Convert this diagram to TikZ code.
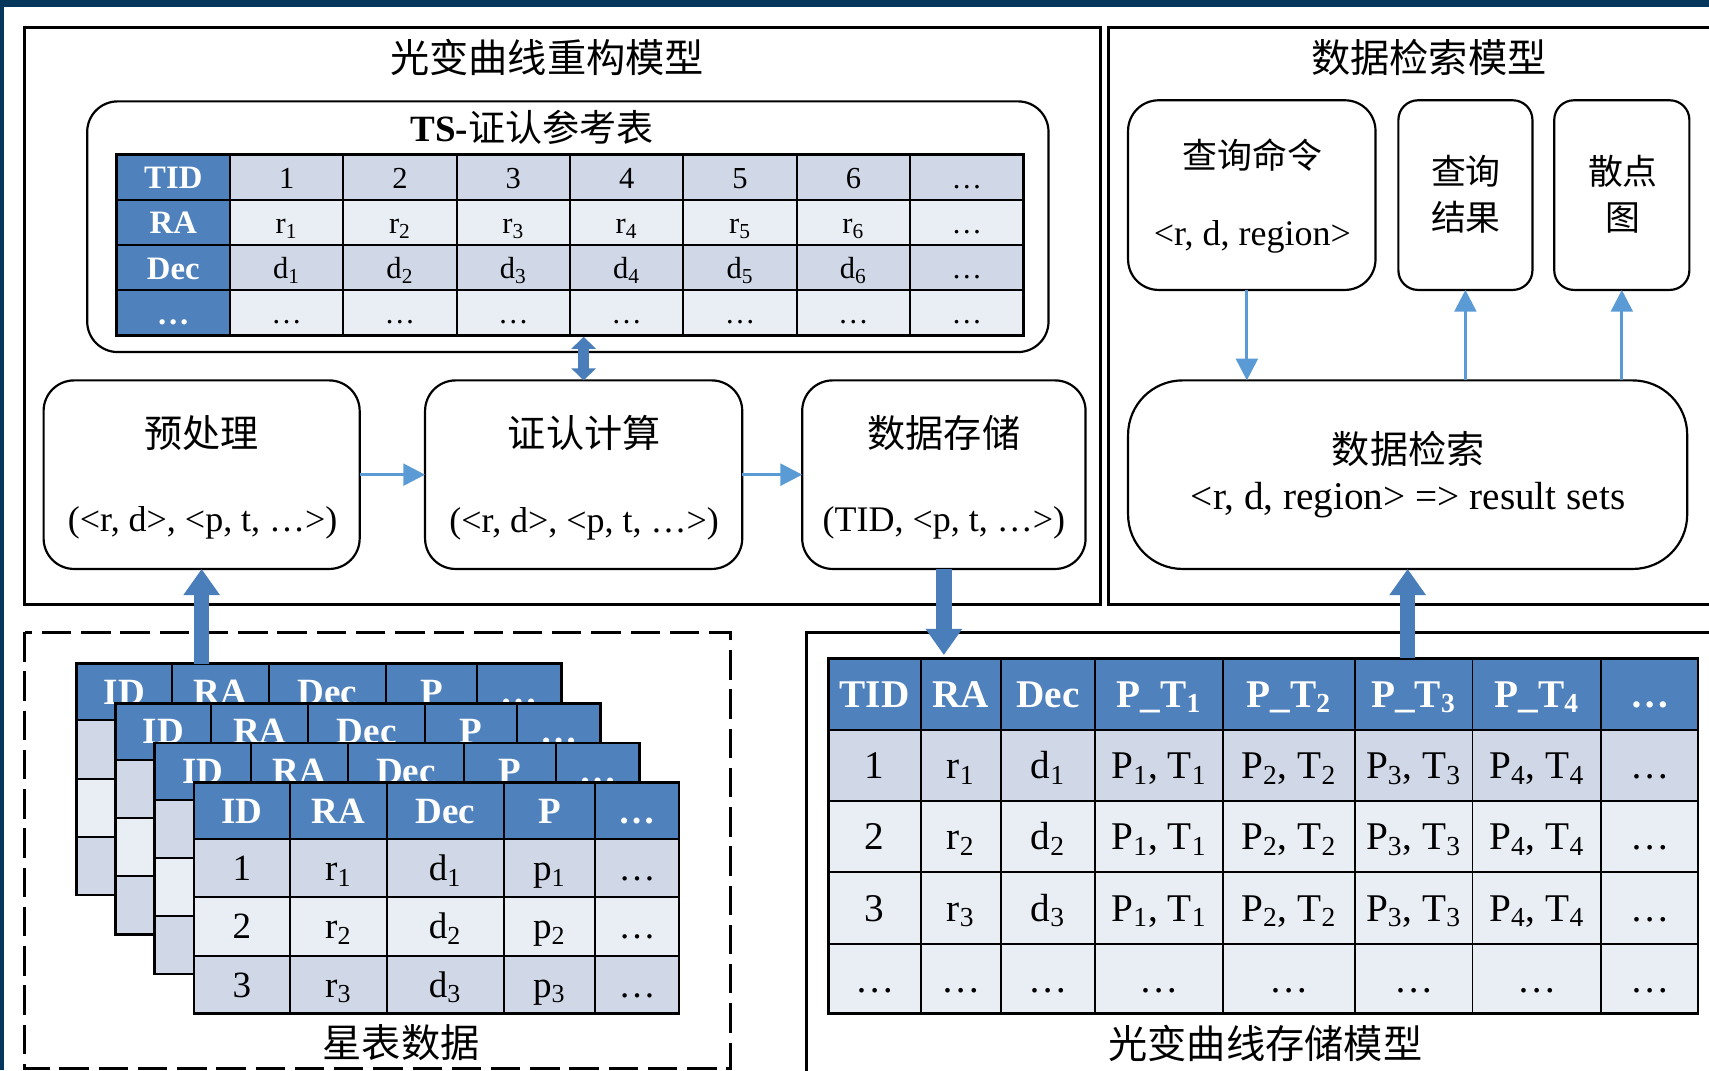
\documentclass[tikz,border=0pt]{standalone}
\usepackage{fontspec}
\setmainfont{Liberation Serif}
\newfontfamily\cjk{Noto Sans CJK SC}
\usetikzlibrary{arrows.meta}
\definecolor{navy}{HTML}{05365C}
\definecolor{hdrblue}{HTML}{4F81BD}
\definecolor{rowdark}{HTML}{D0D8E8}
\definecolor{rowlight}{HTML}{E9EDF4}
\definecolor{thinblue}{HTML}{5B9BD5}
\definecolor{fatblue}{HTML}{4A7EBB}
\tikzset{
  every node/.style={inner sep=0pt,outer sep=0pt},
  frame/.style={draw=black,line width=1.4pt},
  dframe/.style={draw=black,line width=1.4pt,dash pattern=on 13.5pt off 4.5pt},
  rbox/.style={draw=black,line width=1pt,rounded corners=14pt,fill=white},
  gridline/.style={draw=black,line width=0.9pt},
  gridouter/.style={draw=black,line width=1.2pt},
  ttl/.style={font=\cjk\fontsize{18pt}{22pt}\selectfont},
  bttl/.style={font=\cjk\fontsize{17.5pt}{21pt}\selectfont},
  qttl/.style={font=\cjk\fontsize{16pt}{21pt}\selectfont,align=center},
  fml/.style={font=\fontsize{16.5pt}{20pt}\selectfont},
  tscell/.style={font=\fontsize{14pt}{16pt}\selectfont,text height=9.5pt,text depth=0pt},
  tshdr/.style={font=\bfseries\fontsize{15pt}{17pt}\selectfont,text=white,text height=9.9pt,text depth=0pt},
  stcell/.style={font=\fontsize{17pt}{19pt}\selectfont,text height=11.5pt,text depth=0pt},
  sthdr/.style={font=\bfseries\fontsize{17pt}{19pt}\selectfont,text=white,text height=11.2pt,text depth=0pt},
  lccell/.style={font=\fontsize{18pt}{20pt}\selectfont,text height=12.2pt,text depth=0pt},
  lchdr/.style={font=\bfseries\fontsize{18pt}{20pt}\selectfont,text=white,text height=11.9pt,text depth=0pt},
  thinarr/.style={draw=thinblue,line width=1.4pt,-{Triangle[width=10pt,length=10pt]}},
  fatarr/.style={draw=fatblue,line width=7pt,-{Triangle[width=16pt,length=12pt]}},
  dblarr/.style={draw=fatblue,line width=5pt,{Triangle[width=11pt,length=5.5pt]}-{Triangle[width=11pt,length=5.5pt]}},
}
\newcommand\startable[1]{%
\begin{scope}[shift={({(#1-3)*36},{(#1-3)*36.333})}]
\fill[hdrblue] (178,718) rectangle (623,770);
\fill[rowdark] (178,770) rectangle (623,823.33);
\fill[rowlight] (178,823.33) rectangle (623,876.67);
\fill[rowdark] (178,876.67) rectangle (623,930);
\foreach \xx in {266,355,462,546} \draw[gridline] (\xx,718) -- (\xx,930);
\foreach \yy in {770,823.33,876.67} \draw[gridline] (178,\yy) -- (623,\yy);
\draw[gridouter] (178,718) rectangle (623,930);
\node[sthdr] (st#1h1) at (222,744) {ID};
\node[sthdr] (st#1h2) at (310.5,744) {RA};
\node[sthdr] (st#1h3) at (408.5,744) {Dec};
\node[sthdr] (st#1h4) at (504,744) {P};
\node[sthdr] (st#1h5) at (584.5,744) {…};
\ifnum#1=3
\foreach \ri/\yc in {1/796.67,2/850,3/903.33} {
  \node[stcell] (st#1r\ri a) at (222,\yc) {\ri};
  \node[stcell] (st#1r\ri b) at (310.5,\yc) {r\textsubscript{\ri}};
  \node[stcell] (st#1r\ri c) at (408.5,\yc) {d\textsubscript{\ri}};
  \node[stcell] (st#1r\ri d) at (504,\yc) {p\textsubscript{\ri}};
  \node[stcell] (st#1r\ri e) at (584.5,\yc) {…};
}
\fi
\end{scope}}
\begin{document}
\begin{tikzpicture}[x=0.5pt,y=-0.5pt]
\useasboundingbox (0,0) rectangle (1568,982);
\clip (0,0) rectangle (1568,982);
\fill[white] (0,0) rectangle (1568,982);
\fill[navy] (0,0) rectangle (1568,6.5);
\fill[navy] (0,0) rectangle (3.7,982);
% frames
\draw[frame] (22.5,25) rectangle (1009.5,554.5);
\draw[frame] (1017,25) rectangle (1600,554.5);
\draw[frame] (740,580) rectangle (1600,1000);
\draw[dframe] (22.5,580) rectangle (670,980);
% titles
\node[ttl] (t1) at (502,53) {光变曲线重构模型};
\node[ttl] (t2) at (1311,53) {数据检索模型};
\node[ttl] (t3) at (368,957) {星表数据};
\node[ttl] (t4) at (1161,957) {光变曲线存储模型};
% TS box
\node[rbox,minimum width=441pt,minimum height=115pt] (ts) at (521,208) {};
\node (tst) at (488,117) {\fontsize{17pt}{20pt}\selectfont{\bfseries TS-}{\cjk 证认参考表}};
\foreach \ri/\col in {0/rowdark,1/rowlight,2/rowdark,3/rowlight}
  \fill[\col] (211,{142+41.5*\ri}) rectangle (939,{183.5+41.5*\ri});
\fill[hdrblue] (107,142) rectangle (211,308);
\foreach \xx in {211,315,...,835} \draw[gridline] (\xx,142) -- (\xx,308);
\foreach \yy in {183.5,225,266.5} \draw[gridline] (107,\yy) -- (939,\yy);
\draw[gridouter] (107,142) rectangle (939,308);
\node[tshdr] (tsh1) at (159,163) {TID};
\node[tshdr] (tsh2) at (159,204.75) {RA};
\node[tshdr] (tsh3) at (159,246.25) {Dec};
\node[tshdr] (tsh4) at (159,287.75) {…};
\foreach \tx [count=\i from 0] in {1,2,3,4,5,6,…}
  \node[tscell] (tsa\i) at (263+104*\i,163) {\tx};
\foreach \tx [count=\i from 0] in {{r\textsubscript{1}},{r\textsubscript{2}},{r\textsubscript{3}},{r\textsubscript{4}},{r\textsubscript{5}},{r\textsubscript{6}},…}
  \node[tscell] (tsb\i) at (263+104*\i,204.75) {\tx};
\foreach \tx [count=\i from 0] in {{d\textsubscript{1}},{d\textsubscript{2}},{d\textsubscript{3}},{d\textsubscript{4}},{d\textsubscript{5}},{d\textsubscript{6}},…}
  \node[tscell] (tsc\i) at (263+104*\i,246.25) {\tx};
\foreach \i in {0,...,6}
  \node[tscell] (tsd\i) at (263+104*\i,287.75) {…};
% process boxes
\node[rbox,minimum width=145pt,minimum height=86.5pt] (pre) at (185,435.5) {};
\node[rbox,minimum width=145.5pt,minimum height=86.5pt] (calc) at (535.5,435.5) {};
\node[rbox,minimum width=130pt,minimum height=86.5pt] (store) at (866,435.5) {};
\node[bttl] (pret) at (185,397) {预处理};
\node[fml] (pref) at (186,480) {(<r, d>, <p, t, …>)};
\node[bttl] (calct) at (536,397) {证认计算};
\node[fml] (calcf) at (536,481) {(<r, d>, <p, t, …>)};
\node[bttl] (storet) at (866,397) {数据存储};
\node[fml] (storef) at (866,480) {(TID, <p, t, …>)};
% retrieval side
\node[rbox,minimum width=113.5pt,minimum height=87pt] (query) at (1148.5,179) {};
\node[rbox,rounded corners=9pt,minimum width=61.5pt,minimum height=87pt] (result) at (1344.5,179) {};
\node[rbox,rounded corners=9pt,minimum width=62pt,minimum height=87pt] (scatter) at (1488,179) {};
\node[rbox,rounded corners=25pt,minimum width=256.5pt,minimum height=86.5pt] (retr) at (1291.5,435.5) {};
\node[qttl] (queryt) at (1149,142) {查询命令};
\node[fml] (queryf) at (1149,217) {<r, d, region>};
\node[qttl] (resultt) at (1345,178) {查询\\结果};
\node[qttl] (scattert) at (1489,178) {散点\\图};
\node[bttl] (retrt) at (1292,412) {数据检索};
\node[font=\fontsize{18pt}{21pt}\selectfont] (retrf) at (1292,459) {<r, d, region> => result sets};
% star tables
\startable{0}
\startable{1}
\startable{2}
\startable{3}
% light-curve storage table
\fill[hdrblue] (760,604) rectangle (1558,670);
\fill[rowdark] (760,670) rectangle (1558,735);
\fill[rowlight] (760,735) rectangle (1558,930);
\foreach \xx in {845,918,1005,1122,1243,1351,1469} \draw[gridline] (\xx,604) -- (\xx,930);
\foreach \yy in {670,735,800,866} \draw[gridline] (760,\yy) -- (1558,\yy);
\draw[gridouter] (760,604) rectangle (1558,930);
\node[lchdr] (lch1) at (802.5,637) {TID};
\node[lchdr] (lch2) at (881.5,637) {RA};
\node[lchdr] (lch3) at (961.5,637) {Dec};
\foreach \k/\xc in {1/1063.5,2/1182.5,3/1297,4/1410}
  \node[lchdr] (lchp\k) at (\xc,637) {P\_T\textsubscript{\k}};
\node[lchdr] (lch8) at (1513.5,637) {…};
\foreach \ri/\yc in {1/702.5,2/767.5,3/833} {
  \node[lccell] (lc\ri a) at (802.5,\yc) {\ri};
  \node[lccell] (lc\ri b) at (881.5,\yc) {r\textsubscript{\ri}};
  \node[lccell] (lc\ri c) at (961.5,\yc) {d\textsubscript{\ri}};
  \foreach \k/\xc in {1/1063.5,2/1182.5,3/1297,4/1410}
    \node[lccell] (lc\ri p\k) at (\xc,\yc) {P\textsubscript{\k}, T\textsubscript{\k}};
  \node[lccell] (lc\ri z) at (1513.5,\yc) {…};
}
\foreach \xc [count=\i] in {802.5,881.5,961.5,1063.5,1182.5,1297,1410,1513.5}
  \node[lccell] (lc4\i) at (\xc,898) {…};
% connectors
\draw[thinarr] (pre.east) -- (calc.west);
\draw[thinarr] (calc.east) -- (store.west);
\draw[thinarr] ([xshift=-2.25pt]query.south) -- ([xshift=-2.25pt]query.south |- retr.north);
\draw[thinarr] (result.south |- retr.north) -- (result.south);
\draw[thinarr] (scatter.south |- retr.north) -- (scatter.south);
\coordinate (stktop) at (185,609);
\coordinate (lcin) at (866,601);
\coordinate (lcout) at (1291.5,604);
\coordinate (dbltop) at (535.5,309);
\draw[fatarr] (stktop) -- (pre.south);
\draw[fatarr] (store.south) -- (lcin);
\draw[fatarr] (lcout) -- (retr.south);
\draw[dblarr] (dbltop) -- (calc.north);
\end{tikzpicture}
\end{document}
